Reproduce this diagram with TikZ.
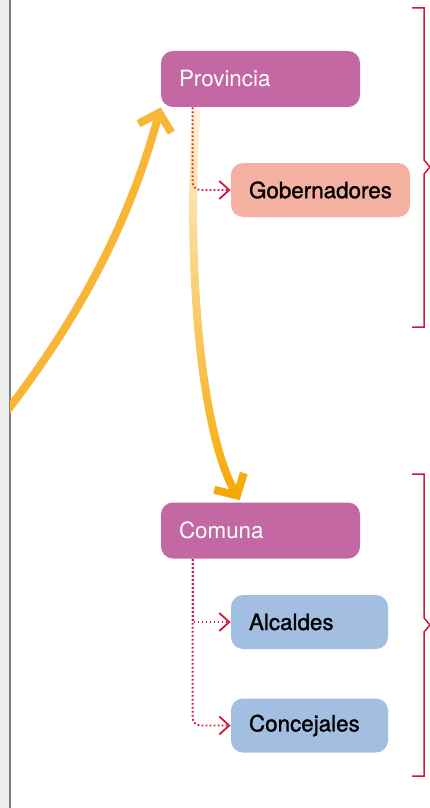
\documentclass[tikz,border=0pt]{standalone}
\usepackage{fontspec}
\setmainfont{TeX Gyre Heros}
\newfontfamily\medfont{TeX Gyre Heros}[FakeBold=1.2]
\usepackage{tikz}
\usetikzlibrary{positioning,arrows.meta,calc,fadings}

\definecolor{cmagenta}{HTML}{C368A3}
\definecolor{csalmon}{HTML}{F4B1A2}
\definecolor{cblue}{HTML}{A2BFE2}
\definecolor{cgold}{HTML}{F9B535}
\definecolor{corange}{HTML}{F5A700}
\definecolor{cred}{HTML}{D4163C}
\definecolor{cstrip}{HTML}{EEEEEE}
\definecolor{cgray}{HTML}{808080}

\tikzfading[name=fade down, top color=transparent!86, bottom color=transparent!0]

\begin{document}
\begin{tikzpicture}[x=0.5pt, y=-0.5pt,
  box/.style={rounded corners=6pt, inner xsep=9pt, inner ysep=0pt, align=left, font=\fontsize{11.2}{13}\selectfont},
  level/.style={box, fill=cmagenta, text=white, text width=81.5pt, minimum height=28pt},
  office/.style={box, fill=cblue, text width=60.5pt, minimum height=27pt, font=\fontsize{11.2}{13}\medfont},
  link/.style={cred, line width=0.9pt, dash pattern=on 0.9pt off 1.1pt, -{Straight Barb[length=5pt, width=9pt]}},
  flow/.style={line width=4pt, -{Straight Barb[length=8pt, width=17pt]}},
  bracket/.style={cred, line width=0.75pt}]
\useasboundingbox (0,0) rectangle (429,808);

% left margin
\fill [cstrip] (0,0) rectangle (9,808);
\draw [cgray, line width=1pt] (9.5,0) -- (9.5,808);

% levels and offices
\node (prov) at (260.5,79) [level] {Provincia};
\node (gob) at (320.5,190) [box, fill=csalmon, text width=71.5pt, minimum height=27pt, font=\fontsize{11.2}{13}\medfont] {Gobernadores};
\node (com) at (260.5,530.5) [level] {Comuna};
\node (alc) at (309.5,622) [office] {Alcaldes};
\node (con) at (309.5,725.5) [office] {Concejales};

\coordinate (provtap) at ([xshift=16pt]prov.south west);
\coordinate (comtap) at ([xshift=16pt]com.south west);
\coordinate (edge) at (0,420);

\draw [link, rounded corners=4pt] (provtap) |- (gob);
\draw [link] (comtap) |- (alc);
\draw [link, rounded corners=4pt] (comtap) |- (con);

% orange arrows
\begin{scope}
\clip (10,0) rectangle (429,808);
\draw [flow, cgold] (edge) .. controls (82,315) and (130,220) .. (prov.south west);
\end{scope}
\draw [flow, corange, path fading=fade down] ([xshift=18pt, yshift=-1pt]prov.south west) .. controls (186,260) and (200,430) .. ([xshift=39.5pt, yshift=1pt]com.north west);

% brackets
\draw [bracket] (412,8) -- (424,8) -- (424,160) -- (430,167) -- (424,174) -- (424,327) -- (412,327);
\draw [bracket] (412,474) -- (424,474) -- (424,618) -- (430,625) -- (424,632) -- (424,776) -- (412,776);
\end{tikzpicture}
\end{document}
